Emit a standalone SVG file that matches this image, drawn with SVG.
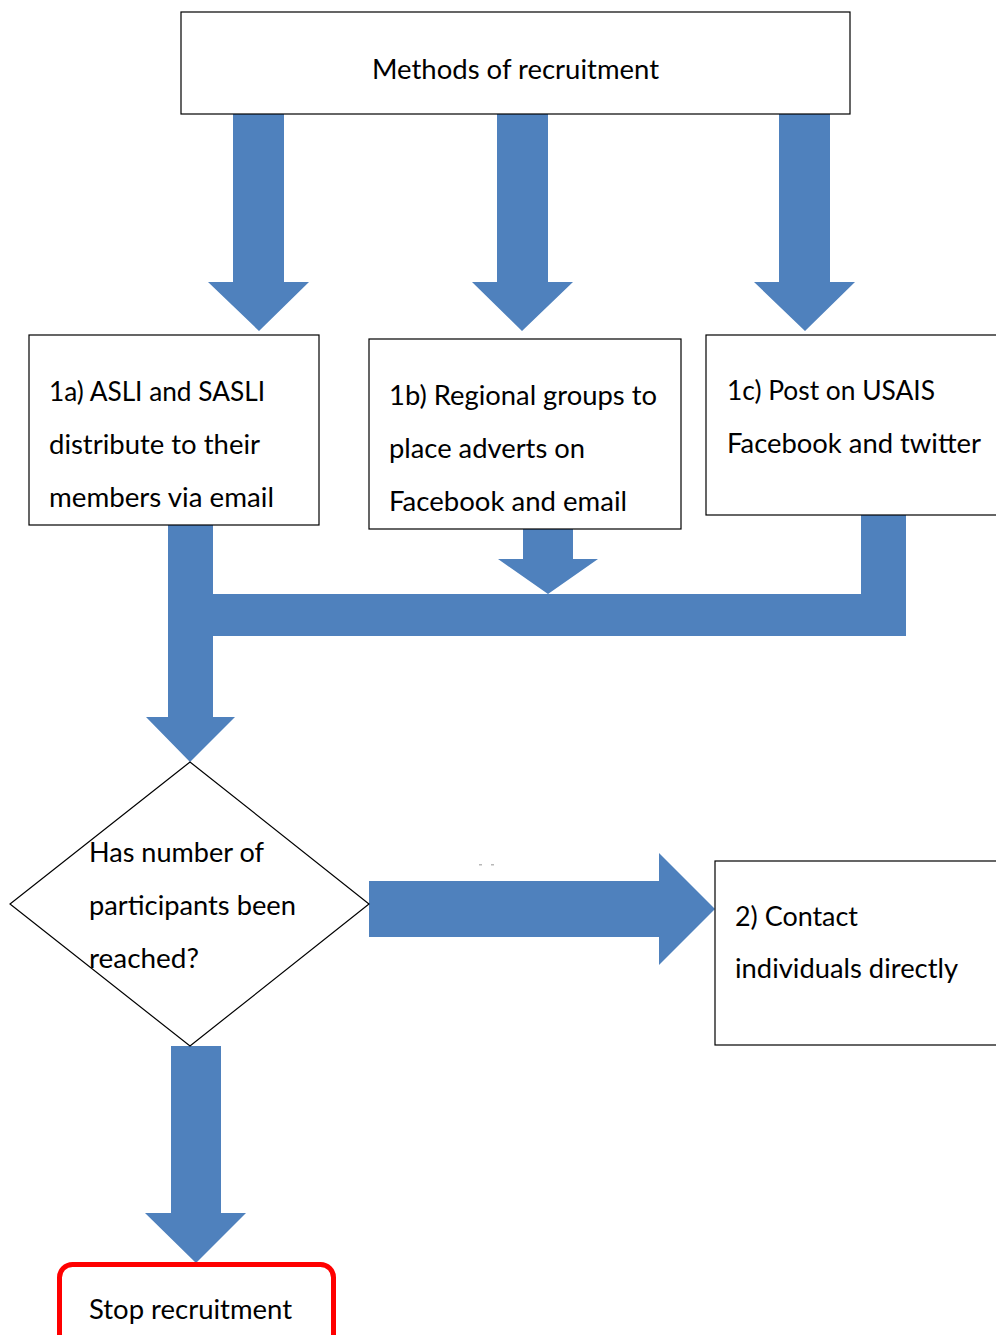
<svg xmlns="http://www.w3.org/2000/svg" width="996" height="1335" viewBox="0 0 996 1335">
  <style>
    .box { fill: #ffffff; stroke: #000000; stroke-width: 1.2; }
    .stop { fill: #ffffff; stroke: #ff0000; stroke-width: 5; }
    .flow { fill: #4f81bd; stroke: none; }
    .label { font-family: Lato, "Liberation Sans", sans-serif; font-size: 27px; fill: #000000; }
    .speck { fill: #b8b8b8; }
  </style>
  <rect width="996" height="1335" fill="#ffffff"/>

  <!-- block arrows -->
  <g id="connectors">
    <!-- from the header to the three methods -->
    <path class="flow" d="M233,114 H284 V282 H309 L259,331 L208,282 H233 Z"/>
    <path class="flow" d="M497,114 H548 V282 H573 L522,331 L472,282 H497 Z"/>
    <path class="flow" d="M779,114 H830 V282 H855 L805,331 L754,282 H779 Z"/>
    <!-- 1a down into the decision, with the collecting bar -->
    <path class="flow" d="M168,525 H213 V594 H861 V515 H906 V636 H213 V717 H235 L190,762 L146,717 H168 Z"/>
    <!-- 1b into the collecting bar -->
    <path class="flow" d="M523,529 H573 V559 H598 L548,594 L498,559 H523 Z"/>
    <!-- decision: no -> contact individuals -->
    <path class="flow" d="M369,881 H659 V853 L715,909 L659,965 V937 H369 Z"/>
    <!-- decision: yes -> stop -->
    <path class="flow" d="M171,1046 H221 V1213 H246 L196,1263 L145,1213 H171 Z"/>
    <rect class="speck" x="479" y="864" width="3" height="1.5"/>
    <rect class="speck" x="491" y="864" width="3" height="1.5"/>
  </g>

  <g id="methods">
    <rect class="box" x="181" y="12" width="669" height="102"/>
    <text class="label" x="372" y="79" textLength="287" lengthAdjust="spacingAndGlyphs">Methods of recruitment</text>
  </g>

  <g id="method-1a">
    <rect class="box" x="29" y="335" width="290" height="190"/>
    <text class="label" x="49" y="401" textLength="216" lengthAdjust="spacingAndGlyphs">1a) ASLI and SASLI</text>
    <text class="label" x="49" y="454" textLength="211" lengthAdjust="spacingAndGlyphs">distribute to their</text>
    <text class="label" x="49" y="507" textLength="225" lengthAdjust="spacingAndGlyphs">members via email</text>
  </g>

  <g id="method-1b">
    <rect class="box" x="369" y="339" width="312" height="190"/>
    <text class="label" x="389" y="405" textLength="268" lengthAdjust="spacingAndGlyphs">1b) Regional groups to</text>
    <text class="label" x="389" y="458" textLength="196" lengthAdjust="spacingAndGlyphs">place adverts on</text>
    <text class="label" x="389" y="511" textLength="238" lengthAdjust="spacingAndGlyphs">Facebook and email</text>
  </g>

  <g id="method-1c">
    <rect class="box" x="706" y="335" width="310" height="180"/>
    <text class="label" x="727" y="400" textLength="208" lengthAdjust="spacingAndGlyphs">1c) Post on USAIS</text>
    <text class="label" x="727" y="453" textLength="254" lengthAdjust="spacingAndGlyphs">Facebook and twitter</text>
  </g>

  <g id="decision">
    <polygon class="box" points="190,762 369,904 190,1046 10,904"/>
    <text class="label" x="89" y="862" textLength="175" lengthAdjust="spacingAndGlyphs">Has number of</text>
    <text class="label" x="89" y="915" textLength="207" lengthAdjust="spacingAndGlyphs">participants been</text>
    <text class="label" x="89" y="968" textLength="110" lengthAdjust="spacingAndGlyphs">reached?</text>
  </g>

  <g id="contact">
    <rect class="box" x="715" y="861" width="300" height="184"/>
    <text class="label" x="735" y="926" textLength="123" lengthAdjust="spacingAndGlyphs">2) Contact</text>
    <text class="label" x="735" y="978" textLength="223" lengthAdjust="spacingAndGlyphs">individuals directly</text>
  </g>

  <g id="stop">
    <rect class="stop" x="59.5" y="1264.5" width="274" height="120" rx="13" ry="13"/>
    <text class="label" x="89" y="1319" textLength="203" lengthAdjust="spacingAndGlyphs">Stop recruitment</text>
  </g>
</svg>
